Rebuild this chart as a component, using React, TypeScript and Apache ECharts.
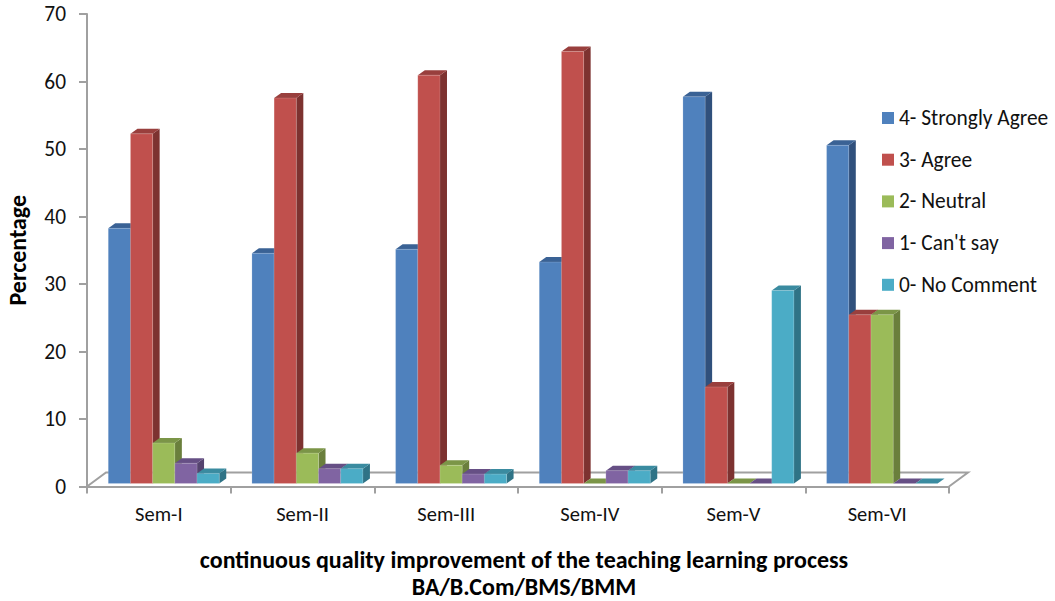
import React, { useEffect, useRef } from "react";
import * as echarts from "echarts";

const categories = ["Sem-I", "Sem-II", "Sem-III", "Sem-IV", "Sem-V", "Sem-VI"];
const seriesNames = ["4- Strongly Agree", "3- Agree", "2- Neutral", "1- Can't say", "0- No Comment"];
const stronglyAgree = [37.8, 34.1, 34.7, 32.8, 57.3, 50.1];
const agree = [51.8, 57.1, 60.5, 64, 14.3, 25];
const neutral = [6, 4.5, 2.7, 0, 0, 25];
const cantSay = [3, 2.2, 1.4, 1.9, 0, 0];
const noComment = [1.5, 2.2, 1.4, 1.9, 28.6, 0];
const seriesValues = [stronglyAgree, agree, neutral, cantSay, noComment];
const tickFont = "Carlito, Calibri, Lato, sans-serif";
const titleText = "continuous quality improvement of the teaching learning process\nBA/B.Com/BMS/BMM";

const faceColors = ["#4F81BD", "#C0504D", "#9BBB59", "#8064A2", "#4BACC6"];
const sideColors = ["#30507C", "#7D3230", "#6A7F3C", "#55436F", "#2F7386"];
const topColors = ["#3A6295", "#993F3D", "#7B9547", "#664F85", "#3A8BA0"];

const DEPTH_X = 7;
const DEPTH_Y = 5;
const FLOOR_X = 19;
const FLOOR_Y = 14;
const AXIS_GRAY = "#A0A0A0";

export default function App() {
  const ref = useRef<HTMLDivElement>(null);
  useEffect(() => {
    const chart = echarts.init(ref.current!, null, { renderer: "svg" });
    const barSeries = seriesValues.map((vals, s) => ({
      type: "custom",
      name: seriesNames[s],
      itemStyle: { color: faceColors[s] },
      encode: { x: 0, y: 1 },
      z: 3,
      data: vals.map((v, i) => [i, v]),
      renderItem: (_p: any, api: any) => {
        const i = api.value(0);
        const v = api.value(1);
        const [cx, yTop0] = api.coord([i, v]);
        const [, yBase0] = api.coord([i, 0]);
        const band = api.size([1, 0])[0];
        const bw = band * 0.1545;
        const x0 = cx - band / 2 + band * 0.148 + s * bw;
        const x1 = x0 + bw;
        const yTop = yTop0 - 3;
        const yBase = yBase0 - 3;
        const edge = { stroke: "rgba(255,255,255,0.25)", lineWidth: 0.6 };
        return {
          type: "group",
          children: [
            {
              type: "polygon",
              shape: { points: [[x1, yTop], [x1 + DEPTH_X, yTop - DEPTH_Y], [x1 + DEPTH_X, yBase - DEPTH_Y], [x1, yBase]] },
              style: { fill: sideColors[s] },
            },
            {
              type: "polygon",
              shape: { points: [[x0, yTop], [x0 + DEPTH_X, yTop - DEPTH_Y], [x1 + DEPTH_X, yTop - DEPTH_Y], [x1, yTop]] },
              style: { fill: topColors[s] },
            },
            ...(v > 0
              ? [{ type: "rect", shape: { x: x0, y: yTop, width: bw, height: yBase - yTop }, style: { fill: faceColors[s], ...edge } }]
              : []),
          ],
        };
      },
    }));
    const floorSeries = {
      type: "custom",
      name: "floor",
      silent: true,
      z: 1,
      data: [[0, 0]],
      encode: { x: 0, y: 1 },
      renderItem: (p: any) => {
        const { x, y, width, height } = p.coordSys;
        const yb = y + height;
        return {
          type: "polyline",
          shape: {
            points: [[x, yb], [x + FLOOR_X, yb - FLOOR_Y], [x + width + FLOOR_X, yb - FLOOR_Y], [x + width, yb]],
          },
          style: { fill: "none", stroke: AXIS_GRAY, lineWidth: 2 },
        };
      },
    };
    chart.setOption({
      animation: false,
      backgroundColor: "#fff",
      title: {
        text: titleText,
        left: 524,
        top: 546,
        padding: 0,
        textAlign: "center",
        textStyle: { fontFamily: tickFont, fontSize: 24, fontWeight: "bold", color: "#000", lineHeight: 27 },
      },
      grid: { left: 87, right: 106, top: 14, bottom: 114.5, outerBoundsMode: "none" },
      legend: {
        data: seriesNames,
        orient: "vertical",
        left: 882,
        top: 107,
        padding: 0,
        icon: "rect",
        itemWidth: 12,
        itemHeight: 12,
        itemGap: 19.7,
        selectedMode: false,
        textStyle: { fontFamily: tickFont, fontSize: 21.4, lineHeight: 22, color: "#111" },
      },
      xAxis: {
        type: "category",
        data: categories,
        boundaryGap: true,
        axisLine: { show: true, lineStyle: { color: AXIS_GRAY, width: 2 } },
        axisTick: { show: true, length: 7, lineStyle: { color: AXIS_GRAY, width: 2 } },
        axisLabel: { fontFamily: tickFont, fontSize: 20.5, color: "#111", margin: 17 },
        splitLine: { show: false },
      },
      yAxis: {
        type: "value",
        min: 0,
        max: 70,
        interval: 10,
        name: "Percentage",
        nameLocation: "middle",
        nameGap: 58,
        nameTextStyle: { fontFamily: tickFont, fontSize: 24, fontWeight: "bold", color: "#000" },
        axisLine: { show: true, lineStyle: { color: AXIS_GRAY, width: 2 } },
        axisTick: { show: true, length: 8, lineStyle: { color: AXIS_GRAY, width: 2 } },
        axisLabel: { fontFamily: tickFont, fontSize: 21.4, color: "#111", margin: 21 },
        splitLine: { show: false },
      },
      series: [floorSeries, ...barSeries],
    });
    return () => chart.dispose();
  }, []);
  return <div ref={ref} style={{ position: "absolute", left: 0, top: 0, width: 1055, height: 601 }} />;
}
